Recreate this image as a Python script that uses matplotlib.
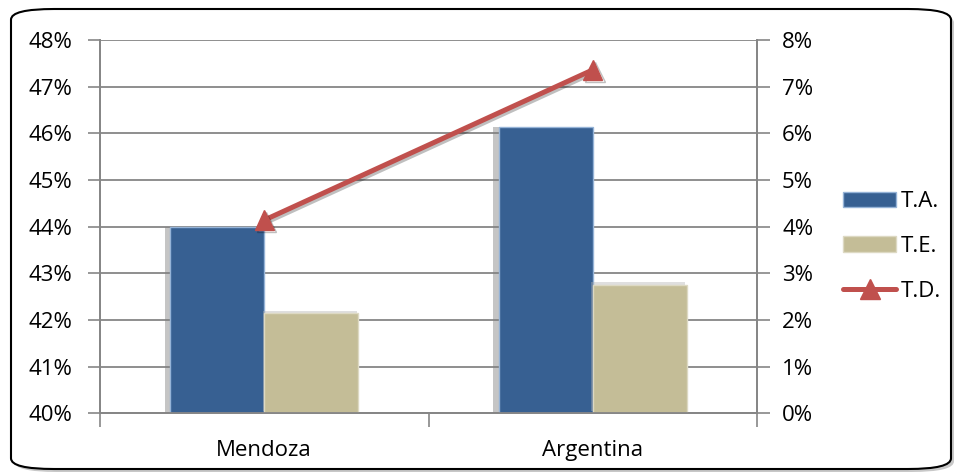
import numpy as np
import matplotlib
matplotlib.use("Agg")
import matplotlib.pyplot as plt
import matplotlib.patheffects as pe
from matplotlib.patches import FancyBboxPatch
from matplotlib.ticker import FuncFormatter

# data (percent)
categories = ["Mendoza", "Argentina"]
ta = [44.0, 46.14]     # left axis
te = [42.14, 42.75]    # left axis
td = [4.14, 7.36]      # right axis
series_names = ["T.A.", "T.E.", "T.D."]

plt.rcParams['font.family'] = ['Open Sans', 'DejaVu Sans']
FS = 16

fig = plt.figure(figsize=(9.57, 4.76), dpi=100, facecolor="white")

# rounded frame with a shadow
shadow = FancyBboxPatch((14/957, 4/476), 940/957, 460/476,
                        boxstyle="round,pad=0,rounding_size=0.045",
                        transform=fig.transFigure, facecolor="#c8c8c8",
                        edgecolor="none", zorder=-2, mutation_aspect=476/957)
fig.patches.append(shadow)
frame = FancyBboxPatch((11/957, 7/476), 940/957, 460/476,
                       boxstyle="round,pad=0,rounding_size=0.045",
                       transform=fig.transFigure, facecolor="white",
                       edgecolor="black", lw=1.5, zorder=-1, mutation_aspect=476/957)
fig.patches.append(frame)

ax = fig.add_axes([100/957, 1-413.3/476, 657/957, 373.3/476])
ax.patch.set_alpha(0)
ax2 = ax.twinx()

x = np.arange(len(categories))
w = 0.286
grid_c = "#868686"

b1 = ax.bar(x - w/2, np.array(ta) - 40, w, bottom=40, color="#376092",
            edgecolor="#95b3d7", lw=1, zorder=3, label=series_names[0])
b2 = ax.bar(x + w/2, np.array(te) - 40, w, bottom=40, color="#c4bd97",
            edgecolor="#ddd9c3", lw=1, zorder=3, label=series_names[1])
ln, = ax2.plot(x, td, color="#c0504d", lw=3.6, marker="^", markersize=14,
               zorder=4, label=series_names[2], solid_capstyle="round")

ax.set_xlim(-0.5, 1.5)
ax.set_ylim(40, 48)
ax2.set_ylim(0, 8)
ax.set_yticks(np.arange(40, 49, 1))
ax2.set_yticks(np.arange(0, 9, 1))
ax.yaxis.set_major_formatter(FuncFormatter(lambda v, p: f"{v:.0f}%"))
ax2.yaxis.set_major_formatter(FuncFormatter(lambda v, p: f"{v:.0f}%"))
ax.set_xticks([-0.5, 0.5, 1.5])
ax.set_xticklabels([])
ax.set_xticks(x, minor=True)
ax.set_xticklabels(categories, minor=True)
ax.tick_params(axis="x", which="minor", length=0, pad=19, labelsize=FS)
ax.tick_params(axis="x", which="major", length=10, width=1.2, color=grid_c)
ax.tick_params(axis="y", length=9, width=1.2, color=grid_c, pad=11, labelsize=FS)
ax2.tick_params(axis="y", length=9, width=1.2, color=grid_c, pad=9, labelsize=FS)

ax.grid(axis="y", color=grid_c, lw=1.3, zorder=0)
ax.set_axisbelow(True)
for a in (ax, ax2):
    a.spines["top"].set_visible(False)
    for s in ("left", "right", "bottom"):
        a.spines[s].set_color(grid_c)
        a.spines[s].set_linewidth(1.3)

fig.legend([b1, b2, ln], series_names, loc="upper left",
           bbox_to_anchor=(843/957, 1-191/476), frameon=False, fontsize=FS,
           handlelength=2.4, handleheight=0.68, labelspacing=1.07,
           handletextpad=0.2, borderaxespad=0, borderpad=0)

# soft shadows, added after the legend so the legend keys stay flat
for p in b1:
    p.set_path_effects([pe.SimplePatchShadow(offset=(-4, 0), shadow_rgbFace="#808080", alpha=0.45), pe.Normal()])
for p in b2:
    p.set_path_effects([pe.SimplePatchShadow(offset=(-1, 2), shadow_rgbFace="#b0b0b0", alpha=0.4), pe.Normal()])
ln.set_path_effects([pe.SimpleLineShadow(offset=(1.5, -1.5), alpha=0.25), pe.Normal()])

fig.savefig("out.png", dpi=100, facecolor="white")
